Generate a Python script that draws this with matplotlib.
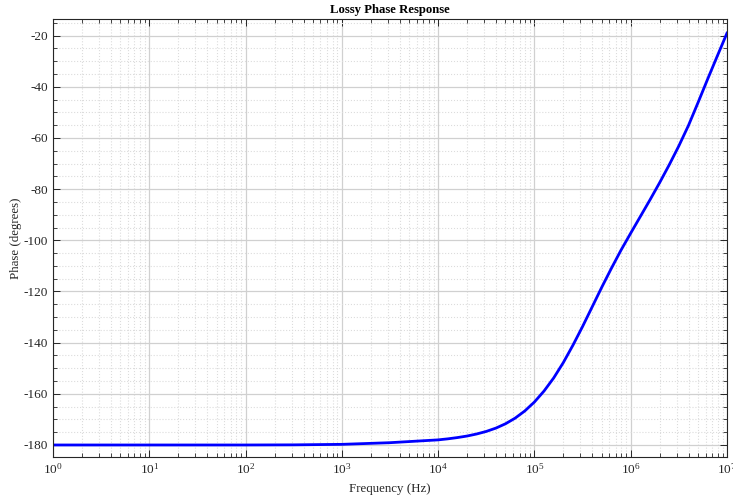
import matplotlib
matplotlib.use("Agg")
import matplotlib.pyplot as plt
import numpy as np
from matplotlib.ticker import LogLocator, MultipleLocator

plt.rcParams['font.family'] = ['Liberation Serif', 'DejaVu Serif']
plt.rcParams['mathtext.fontset'] = 'stix'
plt.rcParams['axes.unicode_minus'] = False

# phase, at log10(frequency)
log_freq = [0, 1, 2, 2.5, 3.0, 3.5, 4.0, 4.1, 4.2, 4.3, 4.4, 4.5, 4.6, 4.7,
            4.8, 4.9, 5.0, 5.1, 5.2, 5.3, 5.4, 5.5, 5.6, 5.7, 5.8, 5.9, 6.0,
            6.1, 6.2, 6.3, 6.4, 6.5, 6.6, 6.7, 6.8, 6.9, 7.0]
phase_deg = [-180.0, -180.0, -180.0, -179.95, -179.75, -179.1, -178.0,
             -177.6, -177.1, -176.5, -175.7, -174.7, -173.4, -171.7, -169.5,
             -166.7, -163.2, -158.9, -153.8, -147.8, -141.0, -133.7, -126.0,
             -118.3, -110.9, -103.8, -97.2, -90.7, -84.2, -77.5, -70.5,
             -63.1, -55.1, -46.1, -36.9, -27.9, -19.0]

freq = np.power(10.0, log_freq)

fig = plt.figure(figsize=(7.33, 4.98), dpi=100)
ax = fig.add_axes([0.0723, 0.0823, 0.9195, 0.8795])

ax.semilogx(freq, phase_deg, color='#0000ff', linewidth=2.0)

ax.set_xlim(1, 1e7)
ax.set_ylim(-184.7, -13.5)
ax.xaxis.set_major_locator(LogLocator(base=10, numticks=10))
ax.xaxis.set_minor_locator(LogLocator(base=10, subs=np.arange(2, 10), numticks=100))
ax.yaxis.set_major_locator(MultipleLocator(20))
ax.yaxis.set_minor_locator(MultipleLocator(5))

ax.grid(True, which='major', color='#d0d0d0', linewidth=0.9)
ax.grid(True, which='minor', color='#dcdcdc', linestyle=':', linewidth=0.8)
ax.set_axisbelow(True)

ax.tick_params(which='both', direction='in', top=True, right=True,
               colors='#262626', labelsize=9.5, labelcolor='#262626')
ax.tick_params(which='major', length=5, width=0.7)
ax.tick_params(which='minor', length=3, width=0.6)
for s in ax.spines.values():
    s.set_color('#262626')
    s.set_linewidth(0.8)

ax.set_xlabel('Frequency (Hz)', fontsize=9.3, color='#262626', labelpad=5)
ax.set_ylabel('Phase (degrees)', fontsize=9.3, color='#262626', labelpad=1)
ax.set_title('Lossy Phase Response', fontsize=9.2, fontweight='bold', pad=4)

fig.savefig('out.png', dpi=100)
